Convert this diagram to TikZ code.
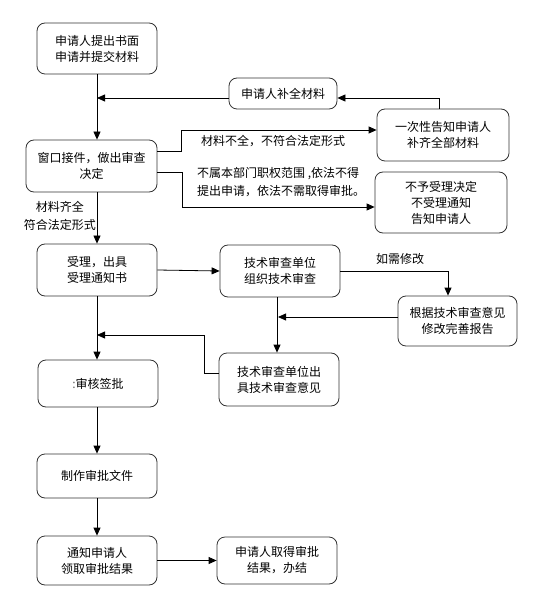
\documentclass[tikz,border=0pt]{standalone}
\usepackage{fontspec}
\setmainfont{Noto Sans CJK SC}
\usetikzlibrary{arrows.meta}
\begin{document}
\begin{tikzpicture}[x=1pt,y=-1pt,
  box/.style={draw=black!80,line width=0.8pt,rounded corners=8pt,align=center,inner sep=0pt,
    font=\fontsize{12}{16}\selectfont},
  lbl/.style={inner sep=0pt,font=\fontsize{12}{18}\selectfont},
  arr/.style={line width=0.8pt,-{Triangle[length=8pt,width=7pt]}},
  ln/.style={line width=0.8pt}]
\useasboundingbox (0,0) rectangle (532,593);
% boxes
\node[box,minimum width=120pt,minimum height=51pt] (b1) at (97,48.5) {申请人提出书面\\申请并提交材料};
\node[box,minimum width=108pt,minimum height=31pt] (bb) at (283,93.5) {申请人补全材料};
\node[box,minimum width=132pt,minimum height=52pt] (bo) at (443,135) {一次性告知申请人\\补齐全部材料};
\node[box,minimum width=131pt,minimum height=52pt] (b2) at (91.5,166) {窗口接件，做出审查\\决定};
\node[box,minimum width=132pt,minimum height=61pt] (bn) at (441,202.5) {不予受理决定\\不受理通知\\告知申请人};
\node[box,minimum width=120pt,minimum height=52pt] (b3) at (97,270) {受理，出具\\受理通知书};
\node[box,minimum width=120pt,minimum height=52pt] (bt) at (280,271) {技术审查单位\\组织技术审查};
\node[box,minimum width=119pt,minimum height=50pt] (bg) at (457.5,321) {根据技术审查意见\\修改完善报告};
\node[box,minimum width=120pt,minimum height=53pt] (bc) at (279,379.5) {技术审查单位出\\具技术审查意见};
\node[box,minimum width=120pt,minimum height=47pt] (b4) at (98,383.5) {{\color{black!60}:}审核签批};
\node[box,minimum width=120pt,minimum height=44pt] (b5) at (97,476) {制作审批文件};
\node[box,minimum width=120pt,minimum height=49pt] (b6) at (97,560.5) {通知申请人\\领取审批结果};
\node[box,minimum width=120pt,minimum height=47pt] (be) at (277,560.5) {申请人取得审批\\结果，办结};
% labels
\node[lbl,anchor=west] (l1) at (201,141) {材料不全，不符合法定形式};
\node[lbl,anchor=west,align=left] (l2) at (197,182) {不属本部门职权范围 ,依法不得\\提出申请，依法不需取得审批。};
\node[lbl,anchor=east,align=center] (l3) at (96,215.5) {材料齐全\\符合法定形式};
\node[lbl] (l4) at (400,259) {如需修改};
% coordinates
\coordinate (j1) at (97,98);
\coordinate (j2) at (278,317);
\coordinate (j3) at (97,335);
% connectors
\draw[arr] (b1.south) -- (b1.south |- b2.north);
\draw[arr] ([yshift=-4.5pt]bb.west) -- (j1);
\draw[arr] ([xshift=-4pt]bo.north) |- ([yshift=-4.5pt]bb.east);
\draw[arr] (b2.east |- 0,151) -- (181,151) -- (181,130) -- (bo.west |- 0,130);
\draw[arr] (b2.east |- 0,172) -- (182,172) -- (182,207) -- (bn.west |- 0,207);
\draw[arr] (b2.south -| 97,0) -- (b3.north);
\draw[arr] (b3.east) -- (bt.west);
\draw[arr] (bt.east) -- (448,271) -- (bg.north -| 448,0);
\draw[arr] (bt.south -| 277,0) -- (bc.north -| 277,0);
\draw[arr] (bg.west |- j2) -- (j2);
\draw[arr] (bc.west |- 0,373) -- (204,373) -- (204,335) -- (j3);
\draw[arr] (b3.south) -- (b4.north -| 97,0);
\draw[arr] (b4.south -| 97,0) -- (b5.north);
\draw[arr] (b5.south) -- (b6.north);
\draw[arr] (b6.east) -- (be.west);
\end{tikzpicture}
\end{document}
